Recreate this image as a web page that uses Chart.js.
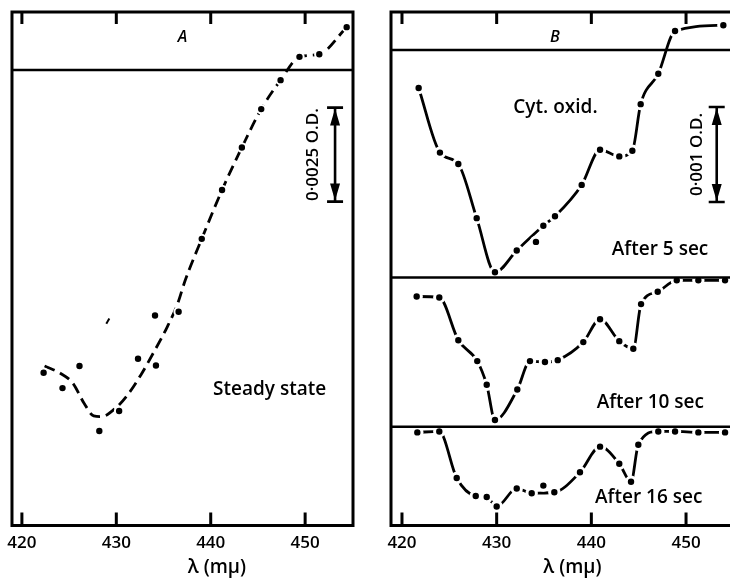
<!DOCTYPE html>
<html><head><meta charset="utf-8">
<script src="https://cdn.jsdelivr.net/npm/chart.js@4.4.1/dist/chart.umd.min.js"></script>
<style>
html,body{margin:0;padding:0;background:#fff;overflow:hidden;width:730px;height:581px;position:relative}
#wa{position:absolute;left:0;top:0;width:365px;height:581px}
#wb{position:absolute;left:380px;top:0;width:365px;height:581px}
</style></head><body>
<div id="wa"><canvas id="ca" width="365" height="581"></canvas></div>
<div id="wb"><canvas id="cb" width="365" height="581"></canvas></div>
<script>
// ---- x axis (wavelength, mμ) ----
const xTicks = [420, 430, 440, 450];

// ---- Panel A: steady state, ΔO.D. (×10⁻³) relative to baseline ----
const lamA = [422.3, 424.3, 426.1, 428.2, 430.3, 432.3, 434.1, 434.2, 436.6, 439.05, 441.2, 443.3, 445.35, 447.4, 449.4, 451.5, 454.4];
const odA  = [-8.05, -8.46, -7.87, -9.60, -9.07, -7.68, -6.53, -7.86, -6.43, -4.49, -3.19, -2.06, -1.04, -0.27, 0.35, 0.42, 1.14];
const lamAfit = [422.4, 424.1, 425.4, 426.6, 427.6, 428.4, 430.1, 431.2, 432.6, 434.0, 435.4, 436.5, 437.3, 439.05, 441.2, 443.3, 445.35, 447.4, 449.4, 451.5, 454.4];
const odAfit  = [-7.87, -8.07, -8.33, -8.87, -9.20, -9.22, -8.95, -8.64, -8.11, -7.49, -6.83, -6.21, -5.59, -4.49, -3.19, -2.06, -1.04, -0.27, 0.35, 0.42, 1.14];
const lamAmark = [429.1];
const odAmark  = [-6.68];

// ---- Panel B: cytochrome oxidase, ΔO.D. (×10⁻³) relative to each baseline ----
const lam5 = [421.76, 424.01, 425.95, 427.89, 429.82, 432.12, 434.15, 434.93, 436.16, 438.98, 440.92, 442.95, 444.33, 445.21, 447.07, 448.84, 453.94];
const od5  = [-0.40, -1.08, -1.20, -1.77, -2.34, -2.11, -2.02, -1.85, -1.75, -1.42, -1.05, -1.12, -1.06, -0.57, -0.25, 0.20, 0.26];
const off5 = [6];

const lam10 = [421.55, 423.94, 425.95, 427.95, 428.95, 429.82, 432.18, 433.52, 435.10, 436.45, 439.15, 440.92, 442.95, 444.43, 445.25, 447.01, 449.02, 451.30, 454.12];
const od10  = [-0.20, -0.21, -0.66, -0.88, -1.13, -1.50, -1.18, -0.88, -0.89, -0.87, -0.68, -0.44, -0.67, -0.75, -0.28, -0.15, -0.03, -0.03, -0.03];
const off10 = [];

const lam16 = [421.62, 423.94, 425.78, 427.79, 428.95, 430.00, 432.12, 433.70, 434.93, 436.09, 438.80, 440.92, 442.95, 444.19, 444.96, 447.07, 448.84, 451.30, 454.12];
const od16  = [-0.06, -0.05, -0.54, -0.73, -0.74, -0.84, -0.65, -0.70, -0.62, -0.69, -0.48, -0.21, -0.39, -0.58, -0.19, -0.05, -0.05, -0.06, -0.06];
const off16 = [8];

const FONT = "'Open Sans', 'DejaVu Sans', sans-serif";
const TXT = '600 19px ' + FONT;

function pts(xs, ys, skip) {
  skip = skip || [];
  return xs.map((x, i) => ({x: x, y: ys[i]})).filter((p, i) => skip.indexOf(i) < 0);
}

const dotStyle = (halo) => ({showLine: false, pointRadius: 3.2 + halo / 2, pointBorderWidth: halo,
  pointBackgroundColor: '#000', pointBorderColor: '#fff', pointHoverRadius: 0});
const curveStyle = (dash) => ({showLine: true, pointRadius: 0, pointHoverRadius: 0, borderColor: '#000',
  borderWidth: 2.8, borderDash: dash || [], cubicInterpolationMode: 'monotone', fill: false});

const frame = {
  id: 'frame',
  afterDatasetsDraw(chart, args, o) {
    const ctx = chart.ctx, a = chart.chartArea, scales = chart.scales, xs = scales.x;
    ctx.save();
    ctx.strokeStyle = '#000'; ctx.fillStyle = '#000'; ctx.lineCap = 'butt'; ctx.setLineDash([]);
    ctx.lineWidth = 2.6;
    o.baselines.forEach(id => {
      const y = scales[id].getPixelForValue(0);
      ctx.beginPath(); ctx.moveTo(a.left, y); ctx.lineTo(a.right, y); ctx.stroke();
    });
    ctx.lineWidth = 3;
    ctx.strokeRect(a.left, a.top, a.right - a.left, a.bottom - a.top);
    xTicks.forEach(v => {
      const px = xs.getPixelForValue(v);
      ctx.beginPath();
      ctx.moveTo(px, a.bottom); ctx.lineTo(px, a.bottom - 13);
      ctx.moveTo(px, a.top); ctx.lineTo(px, a.top + 12);
      ctx.stroke();
    });
    // O.D. scale bar
    const b = o.bar, ys = scales[b.axis];
    const bx = xs.getPixelForValue(b.x), y1 = ys.getPixelForValue(b.to), y2 = ys.getPixelForValue(b.from);
    ctx.lineWidth = 2.6;
    ctx.beginPath();
    ctx.moveTo(bx, y1); ctx.lineTo(bx, y2);
    ctx.moveTo(bx - 8, y1); ctx.lineTo(bx + 8, y1);
    ctx.moveTo(bx - 8, y2); ctx.lineTo(bx + 8, y2);
    ctx.stroke();
    ctx.beginPath();
    ctx.moveTo(bx, y1 + 1); ctx.lineTo(bx - 5, y1 + 18); ctx.lineTo(bx + 5, y1 + 18); ctx.closePath();
    ctx.moveTo(bx, y2 - 1); ctx.lineTo(bx - 5, y2 - 18); ctx.lineTo(bx + 5, y2 - 18); ctx.closePath();
    ctx.fill();
    ctx.save();
    ctx.translate(xs.getPixelForValue(b.labelX), (y1 + y2) / 2);
    ctx.rotate(-Math.PI / 2);
    ctx.font = '600 17px ' + FONT; ctx.textAlign = 'center'; ctx.textBaseline = 'middle';
    ctx.fillText(b.label, 0, 0);
    ctx.restore();
    // labels
    o.notes.forEach(n => {
      ctx.font = n.font; ctx.textAlign = n.align || 'left'; ctx.textBaseline = 'alphabetic';
      ctx.fillText(n.text, xs.getPixelForValue(n.x), scales[n.axis].getPixelForValue(n.y));
    });
    ctx.font = TXT; ctx.textAlign = 'center'; ctx.textBaseline = 'alphabetic';
    ctx.fillText(o.title, xs.getPixelForValue(o.titleX), a.bottom + 47);
    ctx.restore();
  }
};

function xScale(min, max) {
  return {
    type: 'linear', position: 'bottom', min: min, max: max,
    grid: {display: false, drawTicks: false}, border: {display: false},
    afterBuildTicks: s => { s.ticks = xTicks.map(v => ({value: v})); },
    afterFit: s => { s.height = 55.5; },
    ticks: {color: '#000', padding: 7, font: {family: FONT, size: 17, weight: '600'}, autoSkip: false, maxRotation: 0}
  };
}
const hidden = (min, max) => ({type: 'linear', display: false, min: min, max: max});

const baseOptions = (scales, frameOpts) => ({
  responsive: false, animation: false, devicePixelRatio: 1,
  layout: {padding: {left: 11, right: 12, top: 12, bottom: 0}},
  scales: scales,
  plugins: {legend: {display: false}, tooltip: {enabled: false}, frame: frameOpts}
});

// Panel A
new Chart(document.getElementById('ca'), {
  type: 'scatter',
  data: {datasets: [
    Object.assign({data: pts(lamA, odA), yAxisID: 'y'}, dotStyle(2)),
    {data: pts(lamAmark, odAmark), yAxisID: 'y', showLine: false, pointStyle: 'line', rotation: -60,
     pointRadius: 3, pointBorderWidth: 2, pointBorderColor: '#000', pointHoverRadius: 0},
    Object.assign({data: pts(lamAfit, odAfit), yAxisID: 'y'}, curveStyle([11, 6]))
  ]},
  options: baseOptions({x: xScale(418.95, 455.07), y: hidden(-12.114, 1.543)}, {
    baselines: ['y'],
    bar: {axis: 'y', x: 453.17, from: -3.5, to: -1.0, label: '0·0025 O.D.', labelX: 450.9},
    notes: [
      {text: 'A', x: 437.0, y: 0.745, axis: 'y', align: 'center', font: 'italic 600 16px ' + FONT},
      {text: 'Steady state', x: 440.25, y: -8.64, axis: 'y', font: TXT}
    ],
    title: 'λ (mμ)', titleX: 440.65
  }),
  plugins: [frame]
});

// Panel B
new Chart(document.getElementById('cb'), {
  type: 'scatter',
  data: {datasets: [
    Object.assign({data: pts(lam5, od5), yAxisID: 'y5'}, dotStyle(3)),
    Object.assign({data: pts(lam10, od10), yAxisID: 'y10'}, dotStyle(3)),
    Object.assign({data: pts(lam16, od16), yAxisID: 'y16'}, dotStyle(3)),
    Object.assign({data: pts(lam5, od5, off5), yAxisID: 'y5'}, curveStyle()),
    Object.assign({data: pts(lam10, od10, off10), yAxisID: 'y10'}, curveStyle()),
    Object.assign({data: pts(lam16, od16, off16), yAxisID: 'y16'}, curveStyle())
  ]},
  options: baseOptions({
    x: xScale(418.84, 454.96),
    y5: hidden(-5.005, 0.4), y10: hidden(-2.611, 2.795), y16: hidden(-1.04, 4.365)
  }, {
    baselines: ['y5', 'y10', 'y16'],
    bar: {axis: 'y5', x: 453.24, from: -1.6, to: -0.6, label: '0·001 O.D.', labelX: 451.13},
    notes: [
      {text: 'B', x: 436.16, y: 0.084, axis: 'y5', align: 'center', font: 'italic 600 16px ' + FONT},
      {text: 'Cyt. oxid.', x: 431.76, y: -0.664, axis: 'y5', font: TXT},
      {text: 'After 5 sec', x: 442.16, y: -2.158, axis: 'y5', font: TXT},
      {text: 'After 10 sec', x: 440.56, y: -1.377, axis: 'y10', font: TXT},
      {text: 'After 16 sec', x: 440.39, y: -0.806, axis: 'y16', font: TXT}
    ],
    title: 'λ (mμ)', titleX: 438.0
  }),
  plugins: [frame]
});
</script>
</body></html>
